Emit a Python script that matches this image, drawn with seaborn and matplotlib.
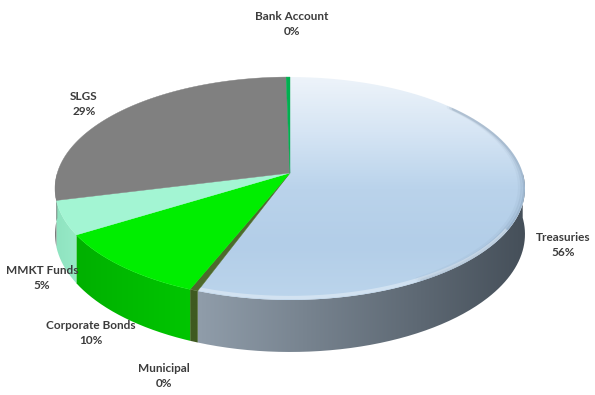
import numpy as np
import matplotlib
matplotlib.use("Agg")
import matplotlib.pyplot as plt
import seaborn as sns
from matplotlib.path import Path
from matplotlib.patches import PathPatch
from matplotlib.colors import LinearSegmentedColormap

# ---- data ----
categories = ["Treasuries", "Municipal", "Corporate Bonds", "MMKT Funds", "SLGS", "Bank Account"]
values = [55.6, 0.5, 10.1, 4.9, 28.6, 0.3]
top_colors = ["#b9d3eb", "#4d6a2c", "#00ee00", "#a3f5d3", "#808080", "#00b050"]
side_colors = [("#909daa", "#454f59"), ("#3f5a20", "#3f5a20"), ("#00b000", "#00c600"),
               ("#8fe3c0", "#97eac7"), ("#747474", "#7a7a7a"), ("#00a048", "#00a048")]
label_pos = [(563, 245), (164, 376), (91, 333), (42, 278), (84, 104), (292, 24)]

sns.set_theme(style="white")
plt.rcParams["font.family"] = ["Lato", "DejaVu Sans"]

# geometry (pixels): perspective projection of a tilted disc
cx, cyc = 290.0, 173.0      # projected centre of the disc
A, B, k = 232.7, 109.3, 0.139
D = 44.8                     # thickness

fig = plt.figure(figsize=(5.95, 3.95), dpi=100)
ax = fig.add_axes([0, 0, 1, 1])
ax.set_xlim(0, 595)
ax.set_ylim(395, 0)
ax.axis("off")


def proj(theta_deg, down=0.0):
    t = np.radians(theta_deg)
    w = 1.0 + k * np.cos(t)
    return cx + A * np.sin(t) / w, cyc - B * np.cos(t) / w + down / w


def grad_fill(verts, colors, direction, extent, zorder):
    path = Path(np.asarray(verts), closed=False)
    patch = PathPatch(path, facecolor="none", edgecolor="none", zorder=zorder)
    ax.add_patch(patch)
    cmap = LinearSegmentedColormap.from_list("g", colors)
    g = np.linspace(0, 1, 256)
    img = g[np.newaxis, :] if direction == "h" else g[:, np.newaxis]
    im = ax.imshow(img, cmap=cmap, extent=extent, aspect="auto", origin="upper",
                   interpolation="bilinear", zorder=zorder)
    im.set_clip_path(patch)
    return patch


fracs = np.array(values) / np.sum(values)
bounds = np.concatenate([[0], np.cumsum(fracs) * 360.0])

# ---- side faces (front half) ----
for i, cat in enumerate(categories):
    t0, t1 = bounds[i], bounds[i + 1]
    s0, s1 = max(t0, 90.0), min(t1, 270.0)
    if s1 <= s0:
        continue
    th = np.linspace(s0, s1, 200)
    xt, yt = proj(th)
    xb, yb = proj(th[::-1], D)
    verts = np.column_stack([np.concatenate([xt, xb]), np.concatenate([yt, yb])])
    verts = np.vstack([verts, verts[:1]])
    c0, c1 = side_colors[i]
    xmin, xmax = verts[:, 0].min(), verts[:, 0].max()
    ymin, ymax = verts[:, 1].min(), verts[:, 1].max()
    grad_fill(verts, [c0, c1], "h", [xmin - 1, xmax + 1, ymax + 1, ymin - 1], 1)

# ---- top faces ----
treas_patch = None
for i, cat in enumerate(categories):
    t0, t1 = bounds[i], bounds[i + 1]
    th = np.linspace(t0, t1, max(int((t1 - t0) * 3), 4))
    xa, ya = proj(th)
    verts = np.column_stack([np.concatenate([[cx], xa, [cx]]),
                             np.concatenate([[cyc], ya, [cyc]])])
    if cat == "Treasuries":
        treas_patch = grad_fill(verts, ["#eef4fa", "#d6e5f4", "#bad3eb", "#b3cee8", "#bcd5ec"], "v",
                                [cx - A - 6, cx + A + 6, 302, 75], 2)
    else:
        ax.fill(verts[:, 0], verts[:, 1], color=top_colors[i], lw=0.3,
                edgecolor=top_colors[i], zorder=2)

# soft bevel shading near the right rim of the Treasuries top (clipped to it)
for off, al, lw in [(0.0, 0.25, 3.0), (2.5, 0.14, 3.0), (5.0, 0.07, 3.0)]:
    th = np.linspace(50, 150, 200)
    xr, yr = proj(th)
    ln, = ax.plot(xr - off, yr - off * 0.3, color="#6f87a0", alpha=al, lw=lw, zorder=3)
    ln.set_clip_path(treas_patch)
# highlight band on the front rim
th = np.linspace(120, bounds[1], 200)
xr, yr = proj(th, -2.0)
ln, = ax.plot(xr, yr, color="white", alpha=0.35, lw=2.5, zorder=3, solid_capstyle="butt")
ln.set_clip_path(treas_patch)

# ---- labels ----
for i, cat in enumerate(categories):
    pct = f"{round(fracs[i] * 100):.0f}%"
    x, y = label_pos[i]
    ax.text(x, y, f"{cat}\n{pct}", ha="center", va="center", fontsize=8.5,
            fontweight="bold", color="#3c3c3c", linespacing=1.35, zorder=5)

fig.savefig("out.png", dpi=100)
